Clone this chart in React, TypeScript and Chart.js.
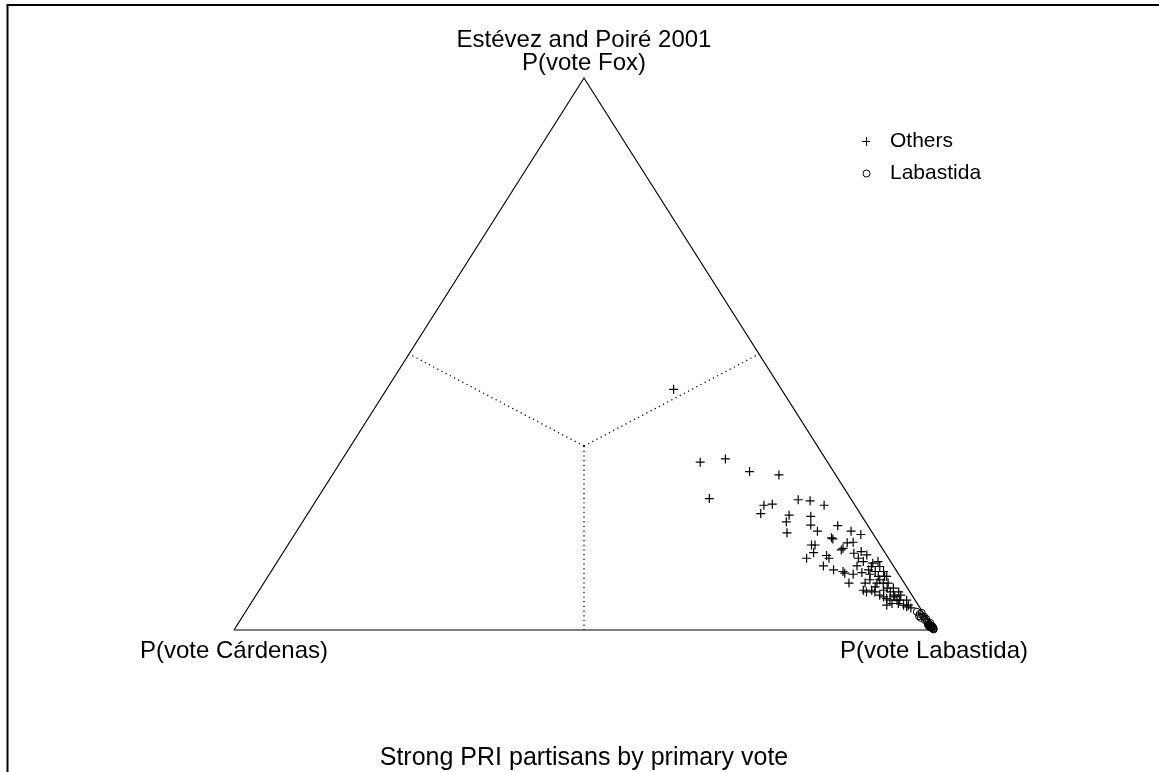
import React, { useEffect, useRef } from "react";
import { Chart, registerables } from "chart.js";

Chart.register(...registerables);

// Ternary data: P(vote Fox) and P(vote Labastida); P(vote Cárdenas) = 1 - both
const othersFox = [
  0.436, 0.304, 0.310, 0.287, 0.281, 0.238, 0.226, 0.228, 0.211, 0.236,
  0.234, 0.226, 0.208, 0.196, 0.176, 0.206, 0.190, 0.179, 0.189, 0.167,
  0.165, 0.179, 0.173, 0.154, 0.140, 0.130, 0.135, 0.130, 0.116, 0.109,
  0.148, 0.145, 0.158, 0.159, 0.139, 0.142, 0.136, 0.130, 0.124, 0.106,
  0.085, 0.101, 0.104, 0.101, 0.124, 0.115, 0.106, 0.085, 0.091, 0.069,
  0.078, 0.091, 0.097, 0.085, 0.072, 0.069, 0.057, 0.060, 0.069, 0.048,
  0.054, 0.054, 0.045, 0.045, 0.045, 0.063, 0.069, 0.072, 0.115, 0.109,
  0.085, 0.076, 0.048, 0.042, 0.085, 0.054, 0.097, 0.154, 0.103, 0.106,
  0.060, 0.054, 0.072, 0.063, 0.097, 0.076, 0.063, 0.040, 0.116, 0.121,
];
const othersLab = [
  0.410, 0.514, 0.547, 0.593, 0.638, 0.560, 0.644, 0.655, 0.647, 0.688,
  0.706, 0.730, 0.689, 0.691, 0.702, 0.721, 0.729, 0.744, 0.768, 0.770,
  0.773, 0.792, 0.809, 0.748, 0.758, 0.753, 0.779, 0.785, 0.784, 0.802,
  0.796, 0.795, 0.797, 0.805, 0.816, 0.825, 0.836, 0.827, 0.837, 0.817,
  0.836, 0.834, 0.845, 0.858, 0.858, 0.865, 0.875, 0.859, 0.863, 0.869,
  0.877, 0.877, 0.884, 0.892, 0.892, 0.903, 0.904, 0.914, 0.915, 0.916,
  0.924, 0.934, 0.941, 0.934, 0.910, 0.891, 0.881, 0.863, 0.853, 0.852,
  0.885, 0.904, 0.925, 0.940, 0.876, 0.910, 0.881, 0.753, 0.821, 0.863,
  0.898, 0.920, 0.875, 0.911, 0.872, 0.895, 0.921, 0.947, 0.832, 0.852,
];
const labastidaFox = [
  0.033, 0.029, 0.031, 0.024, 0.020, 0.016, 0.013, 0.011, 0.009, 0.005,
  0.007, 0.004, 0.002, 0.001, 0.004, 0.007, 0.018, 0.025, 0.007, 0.005,
  0.003, 0.009, 0.013, 0.025, 0.022,
];
const labastidaLab = [
  0.959, 0.965, 0.967, 0.974, 0.979, 0.982, 0.985, 0.987, 0.990, 0.992,
  0.992, 0.995, 0.998, 0.999, 0.994, 0.989, 0.978, 0.972, 0.994, 0.996,
  0.998, 0.987, 0.988, 0.966, 0.970,
];

// Triangle corners (Fox, Labastida) and region separators
const cornerFox = [0, 0, 1, 0];
const cornerLab = [0, 1, 0, 0];
const centroid = { fox: 1 / 3, lab: 1 / 3 };
const edgeMidFox = [0.5, 0.5, 0];
const edgeMidLab = [0, 0.5, 0.5];

const titleLines = ["Estévez and Poiré 2001", "P(vote Fox)"];
const cornerLabels = ["P(vote Cárdenas)", "P(vote Labastida)"];
const subtitle = "Strong PRI partisans by primary vote";
const legendLabels = ["Others", "Labastida"];

const toXY = (fox: number, lab: number) => ({ x: lab + fox / 2, y: fox });

const FAMILY = '"Liberation Sans", Arial, sans-serif';

export default function App() {
  const ref = useRef<HTMLCanvasElement | null>(null);

  useEffect(() => {
    if (!ref.current) return;
    const others = othersFox.map((f, i) => toXY(f, othersLab[i]));
    const labas = labastidaFox.map((f, i) => toXY(f, labastidaLab[i]));
    const tri = cornerFox.map((f, i) => toXY(f, cornerLab[i]));
    const c = toXY(centroid.fox, centroid.lab);
    const seps = edgeMidFox.map((f, i) => [c, toXY(f, edgeMidLab[i])]);

    const overlay = {
      id: "overlay",
      afterDraw(chart: any) {
        const ctx = chart.ctx;
        const xs = chart.scales.x;
        const ys = chart.scales.y;
        ctx.save();
        // frame
        ctx.strokeStyle = "#000";
        ctx.lineWidth = 2;
        ctx.beginPath();
        ctx.moveTo(7.5, 772);
        ctx.lineTo(7.5, 5);
        ctx.lineTo(1159, 5);
        ctx.stroke();

        ctx.fillStyle = "#000";
        ctx.textAlign = "center";
        ctx.textBaseline = "alphabetic";
        const topX = xs.getPixelForValue(0.5);
        const topY = ys.getPixelForValue(1);
        ctx.font = "24px " + FAMILY;
        ctx.fillText(titleLines[0], topX, topY - 31);
        ctx.fillText(titleLines[1], topX, topY - 8);
        const baseY = ys.getPixelForValue(0);
        ctx.font = "24px " + FAMILY;
        ctx.fillText(cornerLabels[0], xs.getPixelForValue(0), baseY + 28);
        ctx.fillText(cornerLabels[1], xs.getPixelForValue(1), baseY + 28);
        ctx.font = "25px " + FAMILY;
        ctx.fillText(subtitle, topX, baseY + 135);

        // legend
        ctx.font = "21px " + FAMILY;
        ctx.textAlign = "left";
        ctx.lineWidth = 1;
        const lx = 866;
        ctx.beginPath();
        ctx.moveTo(lx - 4, 141.5);
        ctx.lineTo(lx + 4, 141.5);
        ctx.moveTo(lx + 0.5, 137);
        ctx.lineTo(lx + 0.5, 146);
        ctx.stroke();
        ctx.beginPath();
        ctx.arc(lx + 0.5, 173.5, 3.5, 0, Math.PI * 2);
        ctx.stroke();
        ctx.fillText(legendLabels[0], 890, 147);
        ctx.fillText(legendLabels[1], 890, 179);
        ctx.restore();
      },
    };

    const chart = new Chart(ref.current, {
      type: "scatter",
      data: {
        datasets: [
          {
            label: "triangle",
            data: tri,
            showLine: true,
            borderColor: "#000",
            borderWidth: 1.2,
            pointRadius: 0,
            fill: false,
            clip: false,
          } as any,
          ...seps.map((s, i) => ({
            label: "sep" + i,
            data: s,
            showLine: true,
            borderColor: "#000",
            borderWidth: 1.3,
            borderDash: [1.2, 3.5],
            pointRadius: 0,
            fill: false,
            clip: false,
          })),
          {
            label: legendLabels[0],
            data: others,
            pointStyle: "cross",
            pointRadius: 4.5,
            borderColor: "#000",
            borderWidth: 1.2,
            backgroundColor: "#000",
            clip: false,
          } as any,
          {
            label: legendLabels[1],
            data: labas,
            pointStyle: "circle",
            pointRadius: 3.5,
            borderColor: "#000",
            borderWidth: 1,
            backgroundColor: "rgba(0,0,0,0)",
            clip: false,
          } as any,
        ],
      },
      options: {
        animation: false,
        responsive: false,
        events: [],
        layout: { padding: { left: 234, right: 225, top: 78, bottom: 142 } },
        plugins: { legend: { display: false }, tooltip: { enabled: false }, title: { display: false } },
        scales: {
          x: { type: "linear", min: 0, max: 1, display: false },
          y: { type: "linear", min: 0, max: 1, display: false },
        },
      },
      plugins: [overlay],
    });
    return () => chart.destroy();
  }, []);

  return (
    <div style={{ position: "absolute", left: 0, top: 0, width: 1159, height: 772, background: "#fff" }}>
      <canvas ref={ref} width={1159} height={772} style={{ display: "block" }} />
    </div>
  );
}
